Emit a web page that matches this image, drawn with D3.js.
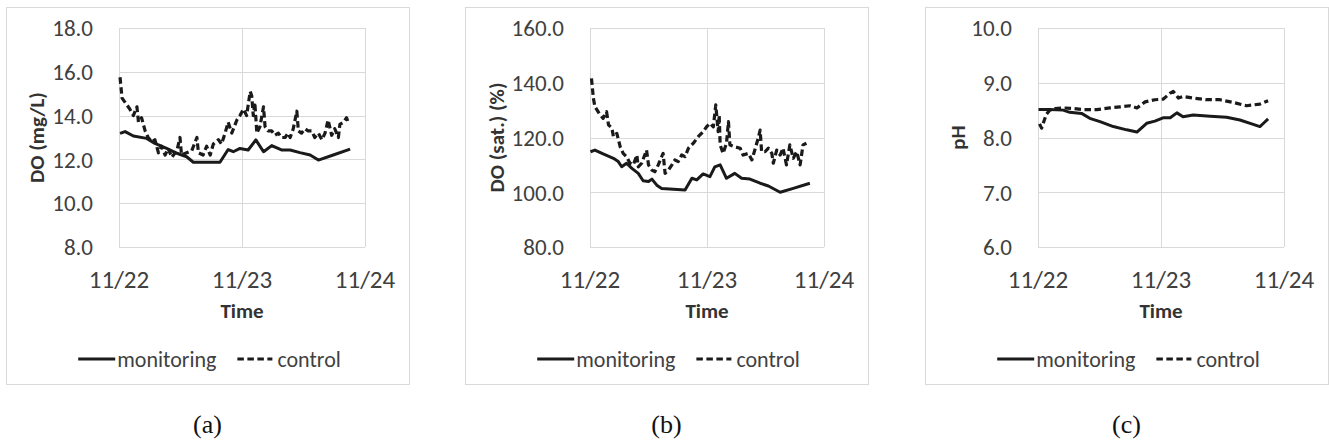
<!DOCTYPE html>
<meta charset="utf-8">
<style>
    body { margin: 0; background: #fff; }
    svg { display: block; font-family: Carlito, Lato, "Open Sans", sans-serif; }
    .grid line { stroke: #d9d9d9; stroke-width: 1; shape-rendering: crispEdges; }
    .tick-y, .tick-x, .legend text { fill: #404040; }
    .title { fill: #333; font-weight: bold; }
    .caption { font-family: "Liberation Serif", "Times New Roman", serif; fill: #111; }
    .mon { fill: none; stroke: #1a1a1a; stroke-width: 3; stroke-linejoin: round; }
    .ctl { fill: none; stroke: #1a1a1a; stroke-width: 3.2; stroke-dasharray: 6.5, 3.5; stroke-linejoin: round; }
</style>
<svg width="1329" height="444"></svg>
<script src="https://d3js.org/d3.v7.min.js"></script>
<script>

// time of each reading, hours after 11/22 00:00, paired with the value
var dayLabels = ["11/22", "11/23", "11/24"];
var seriesNames = ["monitoring", "control"];
var captions = ["(a)", "(b)", "(c)"];

var doTicks = [8, 10, 12, 14, 16, 18];
var satTicks = [80, 100, 120, 140, 160];
var phTicks = [6, 7, 8, 9, 10];

var doMonitoring = [[0.2,13.19],[1.2,13.27],[2.8,13.07],[5.4,12.96],[7.0,12.73],[9.3,12.5],[11.3,12.28],
    [13.2,12.12],[14.5,11.87],[19.7,11.87],[21.3,12.45],[22.3,12.35],[23.6,12.5],[25.2,12.43],[26.7,12.89],
    [28.2,12.35],[29.8,12.63],[31.7,12.43],[33.4,12.43],[35.3,12.31],[37.3,12.2],[38.9,11.97],[41.8,12.2],[45.1,12.47]];
var doControl = [[0.2,15.75],[0.6,14.8],[1.5,14.5],[2.1,14.3],[2.8,14.0],[3.5,14.4],[3.8,13.7],[4.4,13.9],
    [5.1,13.3],[5.7,13.0],[6.4,12.8],[7.0,12.9],[7.7,12.3],[8.3,12.6],[9.0,12.2],[9.6,12.5],[10.3,12.1],
    [11.3,12.4],[11.9,13.0],[12.2,12.2],[13.2,12.3],[14.2,12.4],[15.2,13.0],[15.5,12.3],[16.4,12.2],[17.1,12.6],
    [17.8,12.2],[18.4,12.7],[19.4,12.9],[20.0,12.7],[20.7,13.2],[21.3,13.7],[22.0,13.2],[23.0,13.8],[23.6,14.0],
    [24.3,14.3],[24.9,14.0],[25.6,15.1],[25.9,14.9],[26.2,14.0],[26.5,14.6],[26.9,13.2],[27.5,13.5],[28.2,14.4],
    [28.5,13.5],[29.1,13.3],[29.8,13.3],[30.4,13.1],[31.1,13.2],[31.7,13.0],[32.4,13.0],[33.0,13.2],[33.4,13.0],
    [34.0,13.4],[34.7,14.2],[35.0,13.3],[35.6,13.2],[36.3,13.4],[36.9,13.3],[37.6,13.3],[38.2,13.0],[38.9,13.2],
    [39.6,12.9],[40.2,13.2],[40.8,13.8],[41.5,13.1],[42.1,13.4],[42.8,13.0],[43.1,13.6],[43.8,13.7],[44.4,13.9],[44.7,13.7]];

var satMonitoring = [[0.1,114.8],[1.0,115.4],[2.7,114.0],[4.8,112.4],[5.8,111.2],[6.5,109.3],[7.5,110.6],
    [8.6,108.7],[9.9,106.9],[10.9,104.2],[12.0,103.9],[12.7,104.8],[13.7,102.6],[14.7,101.4],[17.1,101.1],
    [19.5,100.8],[20.9,105.1],[21.9,104.5],[23.2,106.7],[24.6,105.7],[25.6,109.3],[26.7,110.0],[28.0,105.1],
    [29.7,106.9],[31.1,105.1],[32.8,104.8],[34.9,103.3],[36.6,102.3],[39.0,100.0],[41.7,101.4],[45.1,103.3]];
var satControl = [[0.3,141.6],[0.7,134.3],[1.0,131.3],[2.1,128.2],[2.7,127.0],[3.4,129.4],[3.8,124.6],
    [4.5,123.4],[4.8,120.3],[5.5,121.5],[6.2,116.6],[6.8,114.2],[7.5,113.0],[8.2,110.6],[8.9,110.0],[9.6,113.6],
    [9.9,109.3],[10.6,110.6],[11.6,115.4],[12.0,110.0],[12.7,108.1],[13.3,107.5],[14.0,110.0],[15.0,114.2],
    [15.4,106.9],[16.1,108.1],[16.8,110.0],[17.4,111.8],[18.1,111.2],[18.8,113.6],[19.5,113.0],[20.2,116.1],
    [21.2,117.9],[22.2,120.3],[23.2,122.1],[23.9,123.9],[24.6,125.2],[25.3,123.9],[25.8,131.9],[26.3,122.1],
    [26.5,128.2],[26.7,117.3],[27.3,114.2],[28.0,117.9],[28.4,125.8],[28.7,117.3],[29.7,116.6],[30.8,116.1],
    [31.4,113.6],[32.5,114.2],[33.2,111.8],[33.8,115.4],[34.5,119.7],[34.9,122.7],[35.2,114.8],[35.9,114.8],
    [36.6,116.1],[37.3,114.2],[37.6,110.6],[38.3,115.4],[39.0,113.6],[39.6,116.1],[40.3,110.0],[41.0,117.3],
    [41.7,112.4],[42.4,114.8],[43.1,110.0],[43.7,117.3],[44.4,117.9]];

var phMonitoring = [[0.1,8.51],[2.3,8.51],[4.9,8.50],[6.2,8.46],[8.5,8.44],[10.1,8.35],[12.1,8.29],
    [14.7,8.20],[17.3,8.14],[19.3,8.10],[21.2,8.26],[22.8,8.30],[24.4,8.36],[25.8,8.36],[27.1,8.45],[28.3,8.38],
    [30.3,8.41],[33.6,8.39],[36.8,8.37],[39.4,8.32],[41.7,8.25],[43.3,8.20],[44.0,8.26],[44.9,8.34]];
var phControl = [[0.3,8.25],[0.7,8.17],[1.6,8.42],[2.3,8.50],[3.3,8.53],[4.9,8.54],[6.9,8.53],[8.8,8.51],
    [11.5,8.51],[14.0,8.54],[16.0,8.56],[17.9,8.58],[19.3,8.54],[20.9,8.65],[22.8,8.69],[24.4,8.70],[25.8,8.81],
    [26.4,8.84],[27.4,8.72],[28.3,8.75],[30.3,8.72],[32.9,8.69],[35.5,8.69],[38.1,8.64],[40.7,8.58],[43.3,8.61],[44.9,8.67]];

var start = new Date(2020, 10, 22);
function toDate(h) { return d3.timeMinute.offset(start, Math.round(h * 60)); }
var dayDates = dayLabels.map(function(d, i) { return d3.timeDay.offset(start, i); });

var panels = [
    {box: 6, plotLeft: 113, yTitle: "DO (mg/L)", titleGap: 75, ticks: doTicks, mon: doMonitoring, ctl: doControl},
    {box: 465, plotLeft: 125, yTitle: "DO (sat.) (%)", titleGap: 86, ticks: satTicks, mon: satMonitoring, ctl: satControl},
    {box: 925, plotLeft: 113, yTitle: "pH", titleGap: 73, ticks: phTicks, mon: phMonitoring, ctl: phControl}
];

var svg = d3.select("svg");
var boxW = 403, boxTop = 7, boxH = 377;
var plotTop = 28, plotBottom = 247, plotRightGap = 44;

panels.forEach(function(p, i) {
    var x0 = p.box + p.plotLeft, x1 = p.box + boxW - plotRightGap;

    svg.append("rect")
        .attr("x", p.box + 0.5).attr("y", boxTop + 0.5)
        .attr("width", boxW).attr("height", boxH)
        .attr("fill", "#fff").attr("stroke", "#d9d9d9");

    var x = d3.scaleTime().domain([dayDates[0], dayDates[2]]).range([x0, x1]);
    var y = d3.scaleLinear().domain(d3.extent(p.ticks)).range([plotBottom, plotTop]);

    var g = svg.append("g");
    var grid = g.append("g").attr("class", "grid");
    grid.selectAll(".h").data(p.ticks).enter().append("line")
        .attr("x1", x0).attr("x2", x1)
        .attr("y1", function(d) { return Math.round(y(d)) + 0.5; })
        .attr("y2", function(d) { return Math.round(y(d)) + 0.5; });
    grid.selectAll(".v").data(dayDates).enter().append("line")
        .attr("y1", plotTop).attr("y2", plotBottom)
        .attr("x1", function(d) { return Math.round(x(d)) + 0.5; })
        .attr("x2", function(d) { return Math.round(x(d)) + 0.5; });

    g.selectAll(".tick-y").data(p.ticks).enter().append("text")
        .attr("class", "tick-y")
        .attr("x", x0 - 26).attr("y", function(d) { return y(d); })
        .attr("dy", "0.36em").attr("text-anchor", "end")
        .style("font-size", "23px")
        .text(d3.format(".1f"));

    g.selectAll(".tick-x").data(dayDates).enter().append("text")
        .attr("class", "tick-x")
        .attr("x", function(d) { return x(d); }).attr("y", 288)
        .attr("text-anchor", "middle")
        .style("font-size", "25px")
        .text(function(d, j) { return dayLabels[j]; });

    g.append("text").attr("class", "title")
        .attr("x", (x0 + x1) / 2).attr("y", 318)
        .attr("text-anchor", "middle").style("font-size", "21px")
        .text("Time");

    g.append("text").attr("class", "title")
        .attr("transform", "translate(" + (x0 - p.titleGap) + "," + ((plotTop + plotBottom) / 2) + ") rotate(-90)")
        .attr("text-anchor", "middle").style("font-size", "21px")
        .text(p.yTitle);

    var line = d3.line()
        .x(function(d) { return x(toDate(d[0])); })
        .y(function(d) { return y(d[1]); });

    g.append("path").attr("class", "mon").attr("d", line(p.mon));
    g.append("path").attr("class", "ctl").attr("d", line(p.ctl));

    // legend, centred under the box
    var leg = g.append("g").attr("class", "legend");
    var ly = 359;
    leg.append("line").attr("class", "mon").attr("x1", 0).attr("x2", 37).attr("y1", ly).attr("y2", ly);
    var t1 = leg.append("text").attr("x", 39).attr("y", ly).attr("dy", "0.35em")
        .style("font-size", "22px").text(seriesNames[0]);
    var w1 = t1.node().getComputedTextLength();
    var dx = 39 + w1 + 21;
    leg.append("line").attr("class", "ctl").attr("x1", dx).attr("x2", dx + 35).attr("y1", ly).attr("y2", ly);
    var t2 = leg.append("text").attr("x", dx + 40).attr("y", ly).attr("dy", "0.35em")
        .style("font-size", "22px").text(seriesNames[1]);
    var total = dx + 40 + t2.node().getComputedTextLength();
    leg.attr("transform", "translate(" + (p.box + boxW / 2 + 2 - total / 2) + ",0)");

    svg.append("text").attr("class", "caption")
        .attr("x", p.box + boxW / 2).attr("y", 433)
        .attr("text-anchor", "middle").style("font-size", "26px")
        .text(captions[i]);
});

</script>
